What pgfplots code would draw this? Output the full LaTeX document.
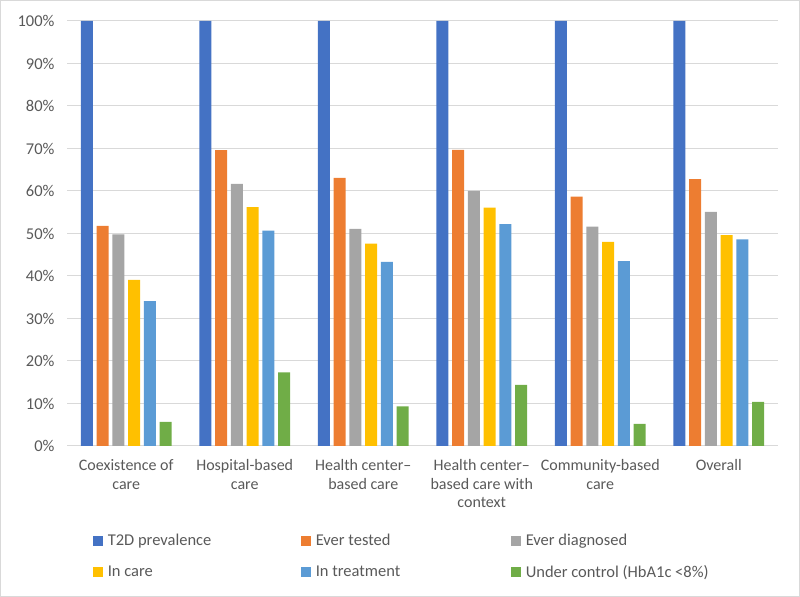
\documentclass[border=0pt]{standalone}
\usepackage{fontspec}
\setmainfont{Carlito}
\usepackage{pgfplots}
\pgfplotsset{compat=1.18}
\definecolor{cA}{HTML}{4472C4}
\definecolor{cB}{HTML}{ED7D31}
\definecolor{cC}{HTML}{A5A5A5}
\definecolor{cD}{HTML}{FFC000}
\definecolor{cE}{HTML}{5B9BD5}
\definecolor{cF}{HTML}{70AD47}
\definecolor{txt}{HTML}{595959}
\definecolor{grd}{HTML}{D9D9D9}
\begin{document}
\begin{tikzpicture}
\useasboundingbox (0,0) rectangle (800bp,597bp);
\draw[color=grd, line width=1bp] (0.5bp,0.5bp) rectangle (799.5bp,596.5bp);
\begin{axis}[
  at={(67bp,151bp)}, anchor=south west,
  scale only axis, width=711bp, height=425bp,
  xmin=-0.5, xmax=5.5, ymin=0, ymax=100,
  ytick={0,10,...,100},
  xtick={0,1,2,3,4,5},
  xticklabels={{Coexistence of\\care},{Hospital-based\\care},{Health center–\\based care},{Health center–\\based care with\\context},{Community-based\\care},{Overall}},
  xticklabel style={align=center, font=\fontsize{16bp}{18.5bp}\selectfont, text=txt, yshift=-10bp},
  yticklabel={\pgfmathprintnumber{\tick}\%},
  yticklabel style={font=\fontsize{16.5bp}{18.5bp}\selectfont, text=txt, xshift=-9bp},
  /pgf/number format/assume math mode=true,
  axis line style={draw=none},
  major tick length=0pt,
  ymajorgrids, grid style={color=grd, line width=1bp},
  ybar, bar width=0.102,
  every axis plot/.append style={draw=none},
  legend columns=3,
  legend cell align=left,
  legend image code/.code={\fill[#1] (0bp,-5bp) rectangle (10bp,5bp);},
  legend style={at={(axis description cs:0.036,-0.202)}, anchor=north west, draw=none, fill=none,
    font=\fontsize{16.5bp}{18.5bp}\selectfont, text=txt, inner sep=0pt,
    /tikz/every odd column/.append style={column sep=3bp},
    /tikz/every even column/.append style={column sep=0bp},
    row sep=14bp},
]
\addplot[fill=cA, bar shift=-0.332] coordinates {(0,100) (1,100) (2,100) (3,100) (4,100) (5,100)};
\addplot[fill=cB, bar shift=-0.199] coordinates {(0,51.8) (1,69.6) (2,63.1) (3,69.7) (4,58.7) (5,62.8)};
\addplot[fill=cC, bar shift=-0.066] coordinates {(0,49.8) (1,61.7) (2,51.1) (3,60.0) (4,51.6) (5,55.1)};
\addplot[fill=cD, bar shift=0.066] coordinates {(0,39.1) (1,56.2) (2,47.6) (3,56.1) (4,48.0) (5,49.6)};
\addplot[fill=cE, bar shift=0.199] coordinates {(0,34.1) (1,50.7) (2,43.3) (3,52.2) (4,43.5) (5,48.6)};
\addplot[fill=cF, bar shift=0.332] coordinates {(0,5.7) (1,17.3) (2,9.3) (3,14.4) (4,5.2) (5,10.4)};
\addlegendentry{\makebox[191bp][l]{T2D prevalence}}
\addlegendentry{\makebox[193bp][l]{Ever tested}}
\addlegendentry{Ever diagnosed}
\addlegendentry{In care}
\addlegendentry{In treatment}
\addlegendentry{Under control (HbA1c <8\%)}
\end{axis}
\end{tikzpicture}
\end{document}
